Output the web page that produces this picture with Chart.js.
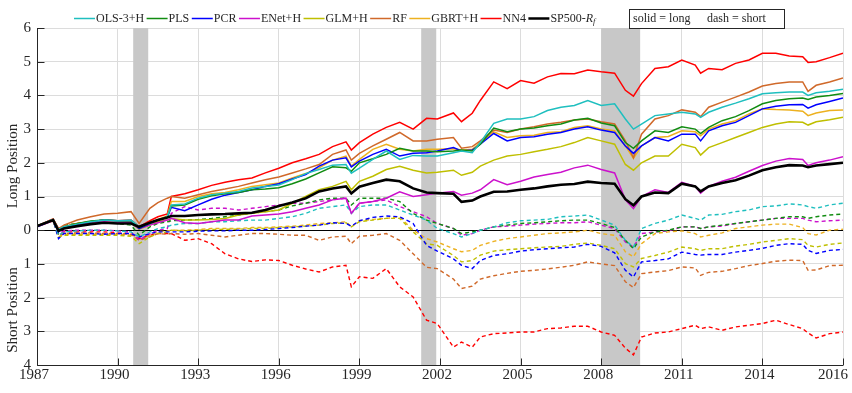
<!DOCTYPE html>
<html>
<head>
<meta charset="utf-8">
<script src="https://cdn.jsdelivr.net/npm/chart.js@4.4.1/dist/chart.umd.min.js"></script>
<style>
  html, body { margin: 0; padding: 0; background: #fff; }
  #wrap { width: 852px; height: 393px; }
</style>
</head>
<body>
<div id="wrap"><canvas id="chart"></canvas></div>
<script>
// x positions (decimal years)
const years = [
  1987.0, 1987.6, 1987.8, 1988.0, 1988.5, 1989.0, 1989.5, 1990.0, 1990.5, 1990.8,
  1991.2, 1991.5, 1991.85, 1992.0, 1992.5, 1993.0, 1993.5, 1994.0, 1994.5, 1995.0,
  1995.5, 1996.0, 1996.5, 1997.0, 1997.5, 1998.0, 1998.5, 1998.7, 1999.0, 1999.5,
  2000.0, 2000.5, 2001.0, 2001.5, 2001.9, 2002.5, 2002.8, 2003.2, 2003.5, 2004.0,
  2004.5, 2005.0, 2005.5, 2006.0, 2006.5, 2007.0, 2007.5, 2008.0, 2008.5, 2008.9,
  2009.2, 2009.5, 2010.0, 2010.5, 2011.0, 2011.5, 2011.7, 2012.0, 2012.5, 2013.0,
  2013.5, 2014.0, 2014.5, 2015.0, 2015.5, 2015.7, 2016.0, 2016.5, 2017.0
];

const xTickLabels = ['1987', '1990', '1993', '1996', '1999', '2002', '2005', '2008', '2011', '2014', '2016'];
const yTickLabels = ['4', '3', '2', '1', '0', '1', '2', '3', '4', '5', '6'];
const recessions = [[1990.58, 1991.14], [2001.3, 2001.86], [2008.0, 2009.45]];

const models = ['OLS-3+H', 'PLS', 'PCR', 'ENet+H', 'GLM+H', 'RF', 'GBRT+H', 'NN4', 'SP500-Rf'];
const colors = ['#1FBFBF', '#118C11', '#0000FF', '#CC11CC', '#BFBF00', '#D0692A', '#EDB120', '#FF0000', '#000000'];

// long position cumulative returns
const longOLS = [
  0.12, 0.32, 0.02, 0.10, 0.18, 0.25, 0.30, 0.28, 0.30, 0.10,
  0.20, 0.30, 0.40, 0.75, 0.78, 0.95, 1.05, 1.10, 1.15, 1.25,
  1.30, 1.34, 1.50, 1.68, 1.80, 1.93, 1.95, 1.69, 1.84, 2.10,
  2.35, 2.10, 2.22, 2.20, 2.20, 2.30, 2.35, 2.30, 2.60, 3.17,
  3.30, 3.30, 3.37, 3.55, 3.65, 3.70, 3.85, 3.70, 3.75, 3.30,
  3.00, 3.15, 3.40, 3.45, 3.50, 3.45, 3.35, 3.50, 3.65, 3.77,
  3.90, 4.05, 4.08, 4.10, 4.10, 4.00, 4.08, 4.12, 4.18
];
const longPLS = [
  0.12, 0.30, 0.00, 0.10, 0.20, 0.27, 0.30, 0.28, 0.28, 0.08,
  0.22, 0.30, 0.40, 0.72, 0.75, 0.92, 1.02, 1.08, 1.12, 1.20,
  1.22, 1.26, 1.38, 1.52, 1.70, 1.88, 1.85, 1.75, 2.00, 2.12,
  2.25, 2.43, 2.35, 2.35, 2.33, 2.35, 2.38, 2.35, 2.55, 3.03,
  2.92, 3.00, 3.03, 3.10, 3.15, 3.27, 3.32, 3.18, 3.10, 2.60,
  2.43, 2.65, 2.95, 2.90, 3.07, 3.00, 2.87, 3.05, 3.25, 3.37,
  3.55, 3.75, 3.85, 3.90, 3.92, 3.88, 3.95, 4.00, 4.06
];
const longPCR = [
  0.10, 0.30, -0.05, 0.08, 0.18, 0.25, 0.30, 0.28, 0.28, 0.05,
  0.20, 0.30, 0.38, 0.68, 0.58, 0.75, 0.92, 1.04, 1.12, 1.20,
  1.30, 1.38, 1.52, 1.65, 1.90, 2.08, 2.15, 1.88, 2.05, 2.25,
  2.40, 2.20, 2.28, 2.30, 2.35, 2.45, 2.35, 2.38, 2.55, 2.87,
  2.65, 2.75, 2.77, 2.85, 2.90, 3.00, 3.07, 2.97, 2.90, 2.50,
  2.28, 2.50, 2.75, 2.65, 2.85, 2.85, 2.65, 2.95, 3.10, 3.20,
  3.40, 3.60, 3.68, 3.72, 3.73, 3.62, 3.72, 3.82, 3.92
];
const longENet = [
  0.10, 0.28, 0.00, 0.08, 0.15, 0.20, 0.25, 0.22, 0.22, 0.05,
  0.15, 0.22, 0.30, 0.35, 0.22, 0.20, 0.25, 0.30, 0.30, 0.42,
  0.45, 0.48, 0.55, 0.65, 0.75, 0.90, 0.95, 0.50, 0.80, 0.85,
  0.95, 1.14, 1.00, 1.05, 1.10, 1.15, 1.04, 1.10, 1.20, 1.50,
  1.35, 1.45, 1.58, 1.65, 1.72, 1.85, 1.93, 1.80, 1.70, 0.90,
  0.64, 1.00, 1.20, 1.12, 1.42, 1.30, 1.10, 1.30, 1.45, 1.57,
  1.75, 1.92, 2.05, 2.13, 2.10, 1.92, 2.00, 2.08, 2.18
];
const longGLM = [
  0.10, 0.28, -0.02, 0.06, 0.15, 0.20, 0.25, 0.22, 0.22, 0.03,
  0.15, 0.25, 0.30, 0.35, 0.30, 0.30, 0.32, 0.35, 0.45, 0.50,
  0.55, 0.60, 0.80, 1.00, 1.20, 1.30, 1.45, 1.20, 1.45, 1.60,
  1.80, 1.90, 1.78, 1.70, 1.72, 1.78, 1.63, 1.72, 1.90, 2.08,
  2.20, 2.25, 2.33, 2.40, 2.48, 2.60, 2.75, 2.65, 2.55, 1.95,
  1.78, 2.00, 2.20, 2.20, 2.55, 2.45, 2.23, 2.45, 2.60, 2.75,
  2.90, 3.05, 3.15, 3.22, 3.20, 3.12, 3.22, 3.28, 3.35
];
const longRF = [
  0.12, 0.33, 0.05, 0.15, 0.30, 0.40, 0.48, 0.50, 0.55, 0.20,
  0.65, 0.82, 0.95, 1.00, 0.95, 1.05, 1.15, 1.22, 1.30, 1.40,
  1.50, 1.58, 1.70, 1.82, 1.95, 2.25, 2.38, 2.08, 2.28, 2.50,
  2.70, 2.90, 2.65, 2.65, 2.70, 2.75, 2.43, 2.48, 2.65, 2.97,
  2.90, 3.00, 3.07, 3.15, 3.20, 3.27, 3.30, 3.22, 3.15, 2.65,
  2.15, 2.85, 3.30, 3.40, 3.57, 3.50, 3.37, 3.65, 3.80, 3.95,
  4.10, 4.28, 4.35, 4.40, 4.40, 4.12, 4.30, 4.40, 4.52
];
const longGBRT = [
  0.12, 0.30, 0.00, 0.10, 0.20, 0.25, 0.30, 0.28, 0.28, 0.08,
  0.22, 0.32, 0.42, 0.85, 0.85, 1.00, 1.08, 1.12, 1.20, 1.30,
  1.35, 1.40, 1.55, 1.68, 1.85, 2.08, 2.20, 1.90, 2.10, 2.40,
  2.55, 2.40, 2.35, 2.40, 2.40, 2.42, 2.38, 2.40, 2.60, 2.92,
  2.75, 2.80, 2.82, 2.90, 2.92, 3.05, 3.10, 3.00, 2.95, 2.50,
  2.13, 2.50, 2.75, 2.78, 2.95, 2.92, 2.80, 3.00, 3.15, 3.25,
  3.45, 3.60, 3.58, 3.57, 3.53, 3.40, 3.48, 3.55, 3.57
];
const longNN4 = [
  0.12, 0.33, 0.05, 0.10, 0.20, 0.25, 0.30, 0.28, 0.30, 0.10,
  0.28, 0.40, 0.48, 1.00, 1.08, 1.20, 1.33, 1.42, 1.50, 1.55,
  1.70, 1.84, 2.00, 2.12, 2.25, 2.48, 2.62, 2.38, 2.60, 2.85,
  3.05, 3.20, 3.00, 3.32, 3.30, 3.48, 3.22, 3.47, 3.85, 4.40,
  4.20, 4.44, 4.36, 4.55, 4.65, 4.64, 4.75, 4.70, 4.66, 4.15,
  3.98, 4.35, 4.80, 4.85, 5.05, 4.90, 4.66, 4.80, 4.76, 4.95,
  5.05, 5.25, 5.25, 5.17, 5.15, 4.98, 5.00, 5.12, 5.25
];
const longSP500 = [
  0.12, 0.30, -0.02, 0.05, 0.12, 0.18, 0.22, 0.20, 0.20, 0.10,
  0.22, 0.30, 0.38, 0.42, 0.42, 0.45, 0.47, 0.48, 0.50, 0.52,
  0.60, 0.72, 0.82, 0.95, 1.15, 1.24, 1.30, 1.09, 1.29, 1.40,
  1.50, 1.45, 1.24, 1.12, 1.10, 1.08, 0.84, 0.88, 1.00, 1.14,
  1.15, 1.20, 1.24, 1.30, 1.35, 1.37, 1.44, 1.40, 1.38, 0.92,
  0.74, 1.00, 1.12, 1.10, 1.38, 1.30, 1.15, 1.30, 1.40, 1.48,
  1.62, 1.78, 1.87, 1.93, 1.92, 1.87, 1.92, 1.96, 2.00
];

// short position cumulative returns (axis reads downward)
const shortOLS = [
  -0.12, -0.30, 0.15, 0.05, 0.02, 0.00, 0.00, 0.02, 0.05, 0.20,
  0.05, -0.05, -0.10, -0.15, -0.20, -0.20, -0.25, -0.25, -0.28, -0.30,
  -0.30, -0.35, -0.40, -0.50, -0.65, -0.70, -0.75, -0.50, -0.70, -0.75,
  -0.75, -0.60, -0.45, -0.30, -0.05, 0.10, 0.20, 0.10, 0.00, -0.10,
  -0.22, -0.28, -0.30, -0.32, -0.40, -0.42, -0.45, -0.30, -0.15, 0.30,
  0.50, -0.05, -0.20, -0.30, -0.45, -0.35, -0.30, -0.45, -0.47, -0.55,
  -0.60, -0.70, -0.72, -0.78, -0.75, -0.70, -0.65, -0.75, -0.80
];
const shortPLS = [
  -0.12, -0.30, 0.10, -0.15, -0.20, -0.22, -0.25, -0.20, -0.15, 0.15,
  -0.10, -0.20, -0.25, -0.28, -0.30, -0.32, -0.35, -0.40, -0.45, -0.50,
  -0.55, -0.60, -0.72, -0.80, -0.90, -0.95, -0.95, -0.75, -0.95, -0.95,
  -0.95, -0.85, -0.50, -0.30, -0.20, -0.05, 0.10, 0.05, 0.00, -0.10,
  -0.15, -0.20, -0.22, -0.25, -0.28, -0.30, -0.30, -0.20, -0.08, 0.30,
  0.55, 0.20, 0.05, 0.00, -0.10, -0.10, -0.05, -0.10, -0.15, -0.20,
  -0.25, -0.30, -0.35, -0.40, -0.40, -0.35, -0.40, -0.45, -0.48
];
const shortPCR = [
  -0.12, -0.30, 0.25, 0.10, 0.10, 0.10, 0.12, 0.10, 0.10, 0.20,
  0.10, 0.05, 0.05, 0.05, 0.05, 0.03, 0.02, 0.02, 0.00, 0.00,
  -0.02, -0.05, -0.08, -0.12, -0.15, -0.22, -0.20, -0.12, -0.28, -0.38,
  -0.42, -0.40, -0.20, 0.45, 0.62, 0.85, 1.04, 1.14, 0.90, 0.75,
  0.70, 0.62, 0.58, 0.55, 0.52, 0.50, 0.42, 0.48, 0.67, 1.19,
  1.39, 0.94, 0.90, 0.85, 0.65, 0.72, 0.74, 0.72, 0.72, 0.65,
  0.60, 0.54, 0.45, 0.40, 0.42, 0.60, 0.69, 0.60, 0.57
];
const shortENet = [
  -0.12, -0.30, 0.10, 0.02, 0.00, 0.00, 0.00, 0.02, 0.05, 0.30,
  0.10, 0.00, -0.05, -0.50, -0.70, -0.60, -0.65, -0.65, -0.60, -0.65,
  -0.70, -0.75, -0.80, -0.80, -0.85, -0.90, -0.95, -0.50, -0.80, -0.85,
  -0.90, -0.70, -0.55, -0.40, -0.20, -0.05, 0.15, 0.10, 0.00, -0.10,
  -0.12, -0.15, -0.18, -0.20, -0.22, -0.22, -0.25, -0.15, -0.05, 0.35,
  0.50, 0.10, 0.05, 0.02, -0.10, -0.10, -0.05, -0.10, -0.12, -0.20,
  -0.25, -0.30, -0.35, -0.35, -0.35, -0.30, -0.25, -0.28, -0.30
];
const shortGLM = [
  -0.12, -0.30, 0.22, 0.15, 0.15, 0.15, 0.15, 0.15, 0.18, 0.40,
  0.20, 0.10, 0.05, 0.00, 0.02, 0.00, -0.02, -0.03, -0.03, -0.05,
  -0.05, -0.08, -0.10, -0.12, -0.15, -0.20, -0.22, -0.10, -0.25, -0.30,
  -0.35, -0.35, 0.05, 0.40, 0.45, 0.75, 0.94, 0.90, 0.74, 0.62,
  0.58, 0.55, 0.52, 0.50, 0.48, 0.42, 0.38, 0.45, 0.55, 0.99,
  1.09, 0.84, 0.75, 0.65, 0.50, 0.55, 0.60, 0.55, 0.55, 0.47,
  0.42, 0.35, 0.30, 0.25, 0.28, 0.45, 0.50, 0.42, 0.38
];
const shortRF = [
  -0.12, -0.30, 0.15, 0.10, 0.08, 0.08, 0.10, 0.10, 0.12, 0.30,
  0.20, 0.10, 0.12, 0.10, 0.12, 0.10, 0.15, 0.20, 0.15, 0.10,
  0.10, 0.12, 0.15, 0.15, 0.30, 0.20, 0.18, 0.40, 0.18, 0.15,
  0.10, 0.30, 0.70, 1.10, 1.14, 1.45, 1.73, 1.66, 1.45, 1.35,
  1.28, 1.22, 1.19, 1.15, 1.10, 1.04, 0.94, 1.00, 1.05, 1.53,
  1.70, 1.29, 1.24, 1.20, 1.09, 1.12, 1.34, 1.25, 1.22, 1.14,
  1.05, 0.99, 0.92, 0.89, 0.90, 1.19, 1.18, 1.05, 1.04
];
const shortGBRT = [
  -0.12, -0.30, 0.20, 0.12, 0.12, 0.12, 0.12, 0.12, 0.15, 0.30,
  0.15, 0.05, 0.02, 0.00, 0.00, -0.02, -0.05, -0.05, -0.05, -0.08,
  -0.08, -0.10, -0.12, -0.15, -0.20, -0.22, -0.25, -0.10, -0.28, -0.32,
  -0.35, -0.40, 0.00, 0.25, 0.35, 0.55, 0.64, 0.60, 0.45, 0.33,
  0.25, 0.20, 0.15, 0.10, 0.08, 0.05, 0.00, 0.10, 0.15, 0.64,
  0.79, 0.40, 0.10, 0.05, 0.02, 0.10, 0.20, 0.15, 0.08, -0.05,
  -0.10, -0.15, -0.18, -0.18, -0.08, 0.10, 0.14, 0.00, -0.03
];
const shortNN4 = [
  -0.12, -0.30, 0.10, 0.05, 0.05, 0.05, 0.05, 0.08, 0.10, 0.25,
  0.15, 0.10, 0.10, 0.10, 0.30, 0.25, 0.40, 0.70, 0.85, 0.93,
  0.88, 0.90, 1.04, 1.15, 1.24, 1.09, 1.04, 1.68, 1.38, 1.43,
  1.14, 1.68, 1.98, 2.67, 2.77, 3.47, 3.32, 3.47, 3.17, 3.07,
  3.05, 3.02, 3.02, 2.92, 2.90, 2.85, 2.85, 3.02, 3.12, 3.50,
  3.70, 3.17, 3.05, 3.02, 2.92, 2.82, 2.92, 2.87, 2.97, 2.87,
  2.82, 2.77, 2.67, 2.80, 2.92, 3.05, 3.20, 3.07, 3.02
];

const longSeries = [longOLS, longPLS, longPCR, longENet, longGLM, longRF, longGBRT, longNN4, longSP500];
const shortSeries = [shortOLS, shortPLS, shortPCR, shortENet, shortGLM, shortRF, shortGBRT, shortNN4];

const serif = '"Liberation Serif", "Times New Roman", serif';
const textColor = '#262626';

const datasets = [];
shortSeries.forEach(function(vals, i) {
  datasets.push({
    label: models[i] + ' short',
    data: years.map(function(x, j) { return { x: x, y: -vals[j] }; }),
    borderColor: colors[i],
    borderWidth: 1.4,
    borderDash: [4, 3],
    pointRadius: 0,
    tension: 0,
    order: 3
  });
});
longSeries.forEach(function(vals, i) {
  const isMarket = i === 8;
  datasets.push({
    label: models[i],
    data: years.map(function(x, j) { return { x: x, y: vals[j] }; }),
    borderColor: colors[i],
    borderWidth: isMarket ? 2.6 : 1.5,
    pointRadius: 0,
    tension: 0,
    order: isMarket ? 0 : 2
  });
});

// recession bars, zero line, inward ticks, legend and axis titles
const decorPlugin = {
  id: 'decor',
  beforeDatasetsDraw: function(chart) {
    const ctx = chart.ctx;
    const area = chart.chartArea;
    const xs = chart.scales.x, ys = chart.scales.y;
    ctx.save();
    ctx.fillStyle = '#C8C8C8';
    recessions.forEach(function(r) {
      const x0 = xs.getPixelForValue(r[0]);
      const x1 = xs.getPixelForValue(r[1]);
      ctx.fillRect(x0, area.top, x1 - x0, area.bottom - area.top);
    });
    const y0 = Math.round(ys.getPixelForValue(0)) + 0.5;
    ctx.strokeStyle = '#000';
    ctx.lineWidth = 1;
    ctx.beginPath();
    ctx.moveTo(area.left, y0);
    ctx.lineTo(area.right, y0);
    ctx.stroke();
    ctx.restore();
  },
  afterDraw: function(chart) {
    const ctx = chart.ctx;
    const area = chart.chartArea;
    const xs = chart.scales.x, ys = chart.scales.y;
    ctx.save();

    // axes with inward ticks
    ctx.strokeStyle = '#262626';
    ctx.lineWidth = 1;
    const left = Math.round(area.left) + 0.5;
    const bottom = Math.round(area.bottom) + 0.5;
    ctx.beginPath();
    ctx.moveTo(left, area.top);
    ctx.lineTo(left, bottom);
    ctx.lineTo(area.right, bottom);
    ctx.stroke();
    ctx.beginPath();
    ys.ticks.forEach(function(t) {
      const y = Math.round(ys.getPixelForValue(t.value)) + 0.5;
      ctx.moveTo(left, y);
      ctx.lineTo(left + 7, y);
    });
    xs.ticks.forEach(function(t) {
      const x = Math.round(xs.getPixelForValue(t.value)) + 0.5;
      ctx.moveTo(x, bottom);
      ctx.lineTo(x, bottom - 7);
    });
    ctx.stroke();

    // x tick labels, kept inside the canvas at the right edge
    ctx.fillStyle = textColor;
    ctx.font = '15px ' + serif;
    ctx.textAlign = 'center';
    ctx.textBaseline = 'top';
    xs.ticks.forEach(function(t, i) {
      const label = xTickLabels[i];
      const w = ctx.measureText(label).width;
      let cx = xs.getPixelForValue(t.value) - 3;
      if (cx + w / 2 > chart.width - 4) cx = chart.width - 4 - w / 2;
      ctx.fillText(label, cx, area.bottom + 3);
    });

    // axis titles
    ctx.textBaseline = 'middle';
    [['Long Position', 166], ['Short Position', 310]].forEach(function(t) {
      ctx.save();
      ctx.translate(13, t[1]);
      ctx.rotate(-Math.PI / 2);
      ctx.fillText(t[0], 0, 0);
      ctx.restore();
    });

    // legend
    ctx.textAlign = 'left';
    const legendFont = '12px ' + serif;
    ctx.font = legendFont;
    let lx = 74;
    const ly = 18.5;
    models.forEach(function(m, i) {
      ctx.strokeStyle = colors[i];
      ctx.lineWidth = i === 8 ? 2.5 : 1.5;
      ctx.beginPath();
      ctx.moveTo(lx, ly);
      ctx.lineTo(lx + 21, ly);
      ctx.stroke();
      lx += 22;
      ctx.fillStyle = textColor;
      if (i === 8) {
        ctx.fillText('SP500-', lx, ly);
        lx += ctx.measureText('SP500-').width;
        ctx.font = 'italic 12px ' + serif;
        ctx.fillText('R', lx, ly);
        lx += ctx.measureText('R').width;
        ctx.font = 'italic 8.5px ' + serif;
        ctx.fillText('f', lx, ly + 3);
        lx += ctx.measureText('f').width;
        ctx.font = legendFont;
      } else {
        ctx.fillText(m, lx, ly);
        lx += ctx.measureText(m).width;
      }
      lx += 2.5;
    });

    // solid / dash note
    ctx.strokeStyle = '#262626';
    ctx.lineWidth = 1;
    ctx.fillStyle = '#fff';
    ctx.fillRect(629.5, 9.5, 155, 19);
    ctx.strokeRect(629.5, 9.5, 155, 19);
    ctx.fillStyle = textColor;
    ctx.fillText('solid = long', 633, ly);
    ctx.fillText('dash = short', 707, ly);

    ctx.restore();
  }
};

new Chart(document.getElementById('chart'), {
  type: 'line',
  data: { datasets: datasets },
  plugins: [decorPlugin],
  options: {
    responsive: true,
    maintainAspectRatio: false,
    animation: false,
    events: [],
    layout: { padding: { top: 28, right: 9, left: 0, bottom: 0 } },
    plugins: { legend: { display: false }, tooltip: { enabled: false } },
    scales: {
      x: {
        type: 'linear',
        min: 1987,
        max: 2017,
        afterFit: function(scale) {
          scale.height = 28;
          scale.paddingLeft = 0;
          scale.paddingRight = 0;
        },
        ticks: { stepSize: 3, display: false },
        grid: { color: '#DCDCDC', drawTicks: false },
        border: { display: false }
      },
      y: {
        min: -4,
        max: 6,
        afterFit: function(scale) { scale.width = 37; },
        ticks: {
          stepSize: 1,
          padding: 6,
          color: textColor,
          font: { family: serif, size: 15 },
          callback: function(v, i) { return yTickLabels[i]; }
        },
        grid: { color: '#DCDCDC', drawTicks: false },
        border: { display: false }
      }
    }
  }
});
</script>
</body>
</html>
